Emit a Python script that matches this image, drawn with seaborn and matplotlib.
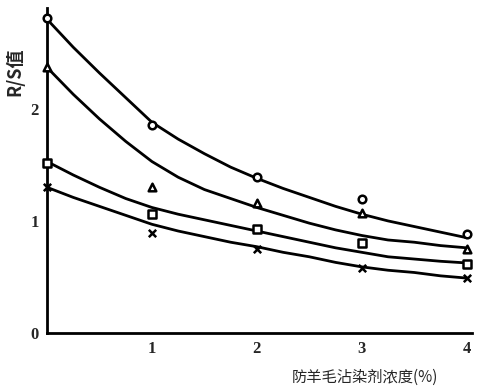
import pandas as pd
import matplotlib
matplotlib.use("Agg")
import matplotlib.pyplot as plt
import seaborn as sns

# ---------- Data ----------
conc = [0, 1, 2, 3, 4]
circle_pts = [2.81, 1.86, 1.39, 1.20, 0.88]
triangle_pts = [2.37, 1.30, 1.16, 1.07, 0.75]
square_pts = [1.52, 1.06, 0.93, 0.80, 0.62]
cross_pts = [1.30, 0.89, 0.75, 0.58, 0.49]

# fitted curves, values
curve_x = [0, 0.25, 0.5, 0.75, 1.0, 1.25, 1.5, 1.75, 2.0,
           2.25, 2.5, 2.75, 3.0, 3.25, 3.5, 3.75, 4.0]
circle_curve = [2.80, 2.55, 2.32, 2.10, 1.88, 1.73, 1.60, 1.48, 1.38,
                1.29, 1.21, 1.13, 1.06, 1.00, 0.95, 0.90, 0.85]
triangle_curve = [2.37, 2.13, 1.91, 1.71, 1.53, 1.39, 1.28, 1.20, 1.12,
                  1.05, 0.98, 0.92, 0.87, 0.83, 0.81, 0.78, 0.76]
square_curve = [1.53, 1.41, 1.30, 1.20, 1.12, 1.06, 1.01, 0.96, 0.91,
                0.86, 0.81, 0.76, 0.72, 0.68, 0.66, 0.64, 0.625]
cross_curve = [1.30, 1.21, 1.13, 1.05, 0.97, 0.91, 0.86, 0.81, 0.77,
               0.72, 0.68, 0.63, 0.59, 0.56, 0.54, 0.51, 0.49]

x_ticks = [1, 2, 3, 4]
y_ticks = [0, 1, 2]
x_label = "防羊毛沾染剂浓度(%)"
y_label = "R/S值"

series = ["o", "^", "s", "x"]
pts = {"o": circle_pts, "^": triangle_pts, "s": square_pts, "x": cross_pts}
curves = {"o": circle_curve, "^": triangle_curve, "s": square_curve, "x": cross_curve}

# ---------- Style ----------
sns.set_style("white")
plt.rcParams["font.family"] = ["Noto Sans CJK SC", "DejaVu Sans"]

fig = plt.figure(figsize=(4.92, 3.91), dpi=100)
ax = fig.add_axes([47 / 492, 1 - 333 / 391, 425 / 492, 325 / 391])

curve_df = pd.concat(
    [pd.DataFrame({"x": curve_x, "y": curves[s], "series": s}) for s in series],
    ignore_index=True,
)
sns.lineplot(data=curve_df, x="x", y="y", units="series", estimator=None,
             color="black", linewidth=2.0, ax=ax, legend=False)

# measured points, drawn over the axis line at x=0
for s in series:
    df = pd.DataFrame({"x": conc, "y": pts[s]})
    if s == "x":
        sns.scatterplot(data=df, x="x", y="y", marker="x", color="black",
                        s=28, linewidth=1.8, ax=ax, zorder=5, clip_on=False)
    else:
        sns.scatterplot(data=df, x="x", y="y", marker=s, facecolor="white",
                        edgecolor="black", s=30, linewidth=1.8, ax=ax,
                        zorder=5, clip_on=False)

ax.set_xlim(0, 4.05)
ax.set_ylim(0, 2.9)
ax.set_xticks(x_ticks)
ax.set_yticks(y_ticks)
ax.set_xticklabels([str(t) for t in x_ticks], fontfamily="Liberation Serif",
                   fontweight="bold", fontsize=12)
ax.set_yticklabels([str(t) for t in y_ticks], fontfamily="Liberation Serif",
                   fontweight="bold", fontsize=12)
ax.tick_params(direction="in", length=4, width=1.5, color="black", pad=6)
ax.set_xlabel("")
ax.set_ylabel("")
for side in ["top", "right"]:
    ax.spines[side].set_visible(False)
for side in ["left", "bottom"]:
    ax.spines[side].set_linewidth(2.0)
    ax.spines[side].set_color("black")

fig.text(15 / 492, 1 - 72 / 391, y_label, rotation=90, ha="center", va="center",
         fontsize=13, fontweight="bold")
fig.text(365 / 492, 1 - 377 / 391, x_label, ha="center", va="center",
         fontsize=11)

fig.savefig("out.png", dpi=100, facecolor="white")
